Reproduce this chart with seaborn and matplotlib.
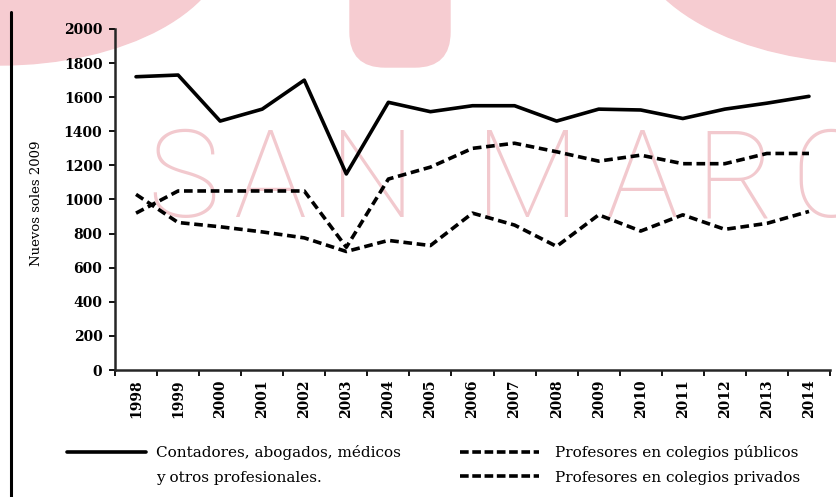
import pandas as pd
import numpy as np
import matplotlib.pyplot as plt
import seaborn as sns
from matplotlib.lines import Line2D
from matplotlib.patches import Ellipse, FancyBboxPatch

years = list(range(1998, 2015))
profesionales = [1720, 1730, 1460, 1530, 1700, 1150, 1570, 1515, 1550, 1550,
                 1460, 1530, 1525, 1475, 1530, 1565, 1605]
publicos = [920, 1050, 1050, 1050, 1050, 720, 1120, 1190, 1300, 1330,
            1280, 1225, 1260, 1210, 1210, 1270, 1270]
privados = [1030, 865, 840, 810, 775, 695, 760, 730, 920, 850,
            725, 910, 815, 910, 825, 860, 930]
series_names = ["Contadores, abogados, médicos",
                "Profesores en colegios públicos",
                "Profesores en colegios privados"]
y_ticks = list(range(0, 2001, 200))

df = pd.DataFrame({"anio": years * 3,
                   "soles": profesionales + publicos + privados,
                   "serie": np.repeat(series_names, len(years))})

sns.set_style("ticks")
plt.rcParams["font.family"] = ["DejaVu Serif"]
plt.rcParams["text.color"] = "black"
plt.rcParams["axes.labelcolor"] = "black"
plt.rcParams["xtick.color"] = "black"
plt.rcParams["ytick.color"] = "black"

fig = plt.figure(figsize=(8.37, 4.97), dpi=100)
inch = fig.dpi_scale_trans
pink = "#f6ccd1"

# marca de agua de fondo
fig.add_artist(Ellipse((0, 5.57), 4.56, 2.50, transform=inch, color=pink, zorder=-2))
fig.add_artist(Ellipse((8.70, 5.67), 4.78, 2.66, transform=inch, color=pink, zorder=-2))
fig.add_artist(FancyBboxPatch((3.50, 4.30), 1.00, 1.2, transform=inch, color=pink,
                              boxstyle="round,pad=0,rounding_size=0.35", zorder=-2))
letters = "SANMARC"
letter_x = [1.83, 2.70, 3.72, 5.27, 6.42, 7.35, 8.30]
for ch, xx in zip(letters, letter_x):
    fig.text(xx, 2.80, ch, transform=inch, ha="center", va="baseline",
             fontsize=88, color="#f2c9ce", family="Roboto", fontweight="light", zorder=-1)

ax = fig.add_axes([115 / 837, 1 - 370 / 497, 715 / 837, 341 / 497])
ax.patch.set_visible(False)

dashes = {series_names[0]: "", series_names[1]: (2.4, 1.3), series_names[2]: (2.4, 1.3)}
sns.lineplot(data=df, x="anio", y="soles", style="serie", dashes=dashes,
             color="black", linewidth=2.6, legend=False, ax=ax)

ax.set_xlim(1997.5, 2014.5)
ax.set_ylim(0, 2000)
ax.set_yticks(y_ticks)
ax.set_yticklabels([str(v) for v in y_ticks], fontweight="bold", fontsize=10)
ax.set_xticks(years)
ax.set_xticklabels([str(y) for y in years], rotation=90, fontweight="bold", fontsize=10)
ax.set_xticks(np.arange(1997.5, 2015), minor=True)
ax.tick_params(axis="x", which="major", length=0, pad=7)
ax.tick_params(axis="x", which="minor", length=4, width=1.3, direction="out")
ax.tick_params(axis="y", length=4, width=1.3, direction="out", pad=5)
sns.despine(ax=ax)
for s in ["left", "bottom"]:
    ax.spines[s].set_linewidth(1.8)
ax.set_xlabel("")
ax.set_ylabel("Nuevos soles 2009", fontsize=9.5)
ax.yaxis.set_label_coords(-0.10, 0.49)

# leyenda
h_solid = Line2D([], [], color="black", linewidth=2.6)
h_none = Line2D([], [], color="none")
h_dash = Line2D([], [], color="black", linewidth=2.6, dashes=(2.4, 1.0))
fig.legend([h_solid, h_none], [series_names[0], "y otros profesionales."],
           loc="upper left", bbox_to_anchor=(0.67, 0.52), bbox_transform=inch,
           frameon=False, fontsize=11, handlelength=5.2, handletextpad=0.65,
           borderpad=0, borderaxespad=0, labelspacing=0.7)
fig.legend([h_dash, h_dash], series_names[1:],
           loc="upper left", bbox_to_anchor=(4.60, 0.52), bbox_transform=inch,
           frameon=False, fontsize=11, handlelength=5.2, handletextpad=1.0,
           borderpad=0, borderaxespad=0, labelspacing=0.7)

fig.add_artist(Line2D([0.11, 0.11], [0, 4.85], transform=inch, color="black", linewidth=2.2))

fig.savefig("out.png", dpi=100)
